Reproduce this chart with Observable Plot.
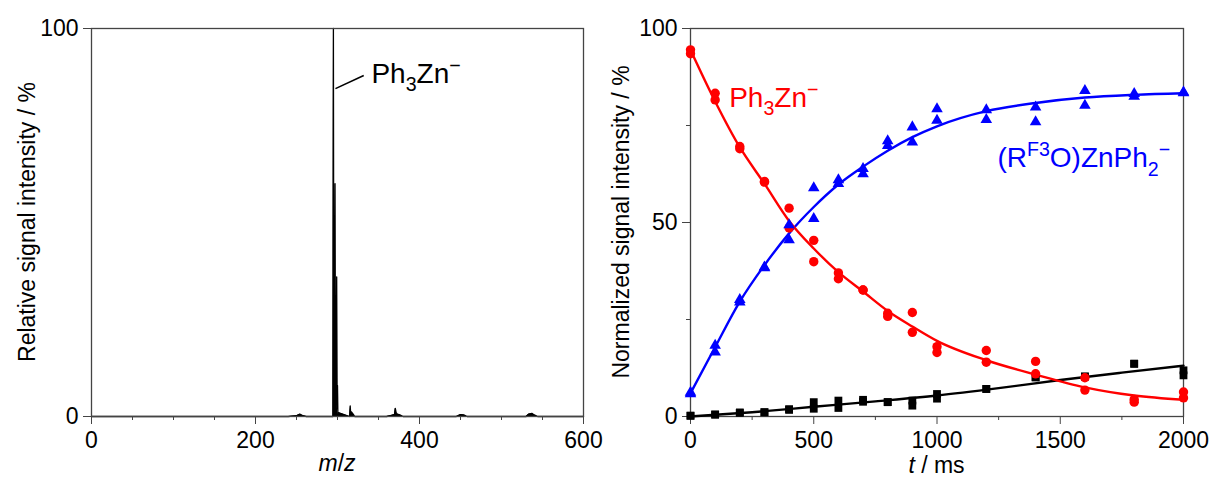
<!DOCTYPE html>
<html><head><meta charset="utf-8">
<script src="https://cdn.jsdelivr.net/npm/d3@7"></script>
<script src="https://cdn.jsdelivr.net/npm/@observablehq/plot@0.6"></script>
<style>
body{margin:0;background:#fff;}
#wrap{display:flex;width:1211px;height:486px;overflow:hidden;}
</style></head><body><div id="wrap"></div>
<script>
const FONT = '"Liberation Sans", Arial, Helvetica, sans-serif';

// ---------- Left panel: mass spectrum ----------
const specMz  = [0, 240, 250, 254, 258, 262, 294.4, 295, 295.6, 296, 296.4, 297, 297.6, 298, 298.4, 299, 299.6, 300, 300.5, 301, 314.8, 315.5, 316, 317, 318, 319.5, 321, 360, 366, 369.5, 370.5, 371.5, 373, 376, 380, 445, 450, 454, 458, 530, 533, 537, 540, 544, 600];
const specInt = [0, 0, 0.2, 0.6, 0.2, 0, 0, 100, 3, 20, 4, 60, 3, 15, 3, 36, 2, 8, 0.5, 1, 0, 2.7, 1.0, 1.2, 0.9, 0.5, 0, 0, 0.3, 0.5, 2.1, 1.0, 0.6, 0.4, 0, 0, 0.5, 0.4, 0, 0, 0.6, 0.8, 0.4, 0, 0];
const leftXTicks = [0, 200, 400, 600];
const leftXMinor = [50, 100, 150, 250, 300, 350, 450, 500, 550];
const leftYTicks = [0, 100];
const leftAnnot = {x1: 297.5, y1: 84.5, x2: 332, y2: 87.9, tx: 342, ty: 85.8};

// ---------- Right panel: kinetics ----------
const tTimes = [0, 100, 200, 300, 400, 500, 600, 700, 800, 900, 1000, 1200, 1400, 1600, 1800, 2000];
const ph3znA = [94.5, 83.3, 69.6, 60.6, 53.7, 45.4, 37.0, 32.6, 26.6, 26.8, 18.0, 17.0, 14.2, 10.0, 4.4, 6.3];
const ph3znB = [93.5, 81.6, 69.0, 60.4, 48.6, 39.9, 35.5, 32.6, 25.8, 21.7, 16.5, 14.0, 11.0, 6.8, 3.7, 4.8];
const roznA  = [6.2, 18.3, 30.1, 38.5, 49.4, 58.9, 61.0, 63.9, 71.0, 74.6, 79.3, 79.0, 79.7, 84.0, 83.2, 83.6];
const roznB  = [5.8, 16.6, 29.5, 38.3, 45.5, 51.0, 60.0, 62.5, 69.8, 70.7, 76.3, 76.5, 75.9, 80.2, 82.5, 83.4];
const otherA = [0.2, 0.5, 1.0, 1.1, 1.9, 3.7, 4.1, 4.3, 3.7, 4.1, 5.8, 7.1, 10.1, 10.3, 13.6, 11.9];
const otherB = [0.2, 0.5, 1.0, 1.1, 1.7, 2.0, 2.2, 3.8, 3.7, 2.8, 4.6, 7.1, 10.1, 10.3, 13.6, 10.6];

const fitT     = [0, 100, 200, 300, 400, 500, 600, 700, 800, 900, 1000, 1200, 1400, 1600, 1800, 2000];
const ph3znFit = [94.5, 81.2, 69.4, 60.0, 50.4, 43.3, 37.2, 32.2, 27.2, 23.2, 19.5, 14.5, 10.8, 7.5, 5.4, 4.3];
const roznFit  = [6.0, 17.9, 29.6, 39.0, 47.2, 54.0, 59.8, 64.4, 68.5, 72.0, 74.8, 78.7, 80.8, 82.2, 82.9, 83.3];
const otherFitT = [0, 250, 500, 750, 1000, 1250, 1500, 1750, 2000];
const otherFit  = [0, 1.1, 2.5, 3.9, 5.4, 7.3, 9.4, 11.3, 13.1];

const rightXTicks = [0, 500, 1000, 1500, 2000];
const rightXMinor = [250, 750, 1250, 1750];
const rightYTicks = [0, 50, 100];
const rightYMinor = [25, 75];

const RED = "#ff0000", BLUE = "#0000ff", AXIS = "#444";
const plain = d => String(d);

// ---------- helpers ----------
function rich(svg, {x, y, parts, fill = "black", size = 28, anchor = "start", rotate = false}) {
  const t = d3.select(svg).append("text")
    .attr("fill", fill).attr("font-size", size).attr("font-family", FONT)
    .attr("text-anchor", anchor);
  if (rotate) t.attr("transform", `translate(${x},${y}) rotate(-90)`);
  else t.attr("x", x).attr("y", y);
  let shift = 0;
  for (const [s, k] of parts) {
    const ts = t.append("tspan").text(s);
    let target = 0, fs = size;
    if (k === "sub") { target = 0.3 * size; fs = 0.7 * size; }
    if (k === "sup") { target = -0.4 * size; fs = 0.7 * size; }
    if (k === "i") ts.attr("font-style", "italic");
    ts.attr("font-size", fs);
    if (target !== shift) { ts.attr("dy", target - shift); shift = target; }
  }
  return t;
}

const baseStyle = {fontFamily: FONT, fontSize: "23px", color: "black", background: "white", overflow: "visible"};

// ---------- Left plot ----------
const spec = specMz.map((m, i) => ({mz: m, v: specInt[i]}));
const left = Plot.plot({
  width: 605, height: 486,
  marginLeft: 91, marginRight: 22, marginTop: 28, marginBottom: 70,
  x: {domain: [0, 600]},
  y: {domain: [0, 100]},
  style: baseStyle,
  marks: [
    Plot.areaY(spec, {x: "mz", y: "v", fill: "black"}),
    Plot.line(spec, {x: "mz", y: "v", stroke: "black", strokeWidth: 1.3}),
    Plot.frame({stroke: AXIS, strokeWidth: 1.3}),
    Plot.axisX({ticks: leftXTicks, tickFormat: plain, tickSize: 8, tickPadding: 7, label: null, stroke: AXIS, fill: "black"}),
    Plot.axisX({ticks: leftXMinor, tickSize: 4, text: null, label: null, stroke: AXIS}),
    Plot.axisY({ticks: leftYTicks, tickFormat: plain, tickSize: 8, tickPadding: 5, label: null, stroke: AXIS, fill: "black"}),
    Plot.link([leftAnnot], {x1: "x1", y1: "y1", x2: "x2", y2: "y2", stroke: "black", strokeWidth: 1.6})
  ]
});
{
  const xs = left.scale("x"), ys = left.scale("y");
  rich(left, {x: xs.apply(leftAnnot.tx), y: ys.apply(leftAnnot.ty), parts: [["Ph"], ["3", "sub"], ["Zn"], ["−", "sup"]]});
  rich(left, {x: (xs.apply(0) + xs.apply(600)) / 2, y: 471, anchor: "middle", size: 23, parts: [["m", "i"], ["/"], ["z", "i"]]});
  rich(left, {x: 27, y: (ys.apply(0) + ys.apply(100)) / 2, anchor: "middle", size: 23, rotate: true, parts: [["Relative signal intensity / %"]]})
    .attr("dy", "0.35em");
}

// ---------- Right plot ----------
const pts = [];
tTimes.forEach((t, i) => {
  pts.push({t, v: otherA[i], s: "other"}, {t, v: otherB[i], s: "other"});
});
tTimes.forEach((t, i) => {
  pts.push({t, v: ph3znA[i], s: "ph3zn"}, {t, v: ph3znB[i], s: "ph3zn"});
});
tTimes.forEach((t, i) => {
  pts.push({t, v: roznA[i], s: "rozn"}, {t, v: roznB[i], s: "rozn"});
});
const fitRed = fitT.map((t, i) => ({t, v: ph3znFit[i]}));
const fitBlue = fitT.map((t, i) => ({t, v: roznFit[i]}));
const fitBlack = otherFitT.map((t, i) => ({t, v: otherFit[i]}));

const right = Plot.plot({
  width: 606, height: 486,
  marginLeft: 85, marginRight: 28, marginTop: 28, marginBottom: 70,
  x: {domain: [0, 2000]},
  y: {domain: [0, 100]},
  style: baseStyle,
  marks: [
    Plot.frame({stroke: AXIS, strokeWidth: 1.3}),
    Plot.axisX({ticks: rightXTicks, tickFormat: plain, tickSize: 8, tickPadding: 7, label: null, stroke: AXIS, fill: "black"}),
    Plot.axisX({ticks: rightXMinor, tickSize: 4, text: null, label: null, stroke: AXIS}),
    Plot.axisY({ticks: rightYTicks, tickFormat: plain, tickSize: 8, tickPadding: 5, label: null, stroke: AXIS, fill: "black"}),
    Plot.axisY({ticks: rightYMinor, tickSize: 4, text: null, label: null, stroke: AXIS}),
    Plot.line(fitBlack, {x: "t", y: "v", stroke: "black", strokeWidth: 2.4, curve: "monotone-x"}),
    Plot.line(fitBlue, {x: "t", y: "v", stroke: BLUE, strokeWidth: 2.4, curve: "monotone-x"}),
    Plot.line(fitRed, {x: "t", y: "v", stroke: RED, strokeWidth: 2.4, curve: "monotone-x"}),
    Plot.dot(pts.filter(d => d.s === "other"), {x: "t", y: "v", symbol: "square", r: 4.4, fill: "black"}),
    Plot.dot(pts.filter(d => d.s === "ph3zn"), {x: "t", y: "v", symbol: "circle", r: 4.7, fill: RED}),
    Plot.dot(pts.filter(d => d.s === "rozn"), {x: "t", y: "v", symbol: "triangle", r: 4.3, fill: BLUE})
  ]
});
{
  const xs = right.scale("x"), ys = right.scale("y");
  rich(right, {x: xs.apply(159), y: ys.apply(79.7), fill: RED, parts: [["Ph"], ["3", "sub"], ["Zn"], ["−", "sup"]]});
  rich(right, {x: xs.apply(1247), y: ys.apply(64.1), fill: BLUE,
    parts: [["(R"], ["F3", "sup"], ["O)ZnPh"], ["2", "sub"], ["−", "sup"]]});
  rich(right, {x: (xs.apply(0) + xs.apply(2000)) / 2, y: 473, anchor: "middle", size: 23, parts: [["t", "i"], [" / ms"]]});
  rich(right, {x: 16, y: (ys.apply(0) + ys.apply(100)) / 2, anchor: "middle", size: 23, rotate: true, parts: [["Normalized signal intensity / %"]]})
    .attr("dy", "0.35em");
}

document.getElementById("wrap").append(left, right);
</script>
</body></html>
